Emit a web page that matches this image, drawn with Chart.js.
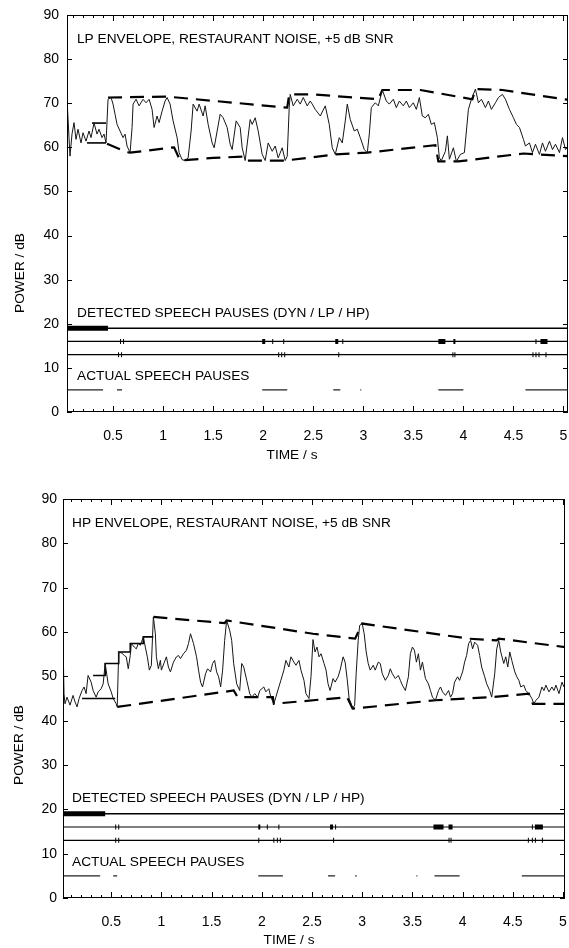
<!DOCTYPE html>
<html>
<head>
<meta charset="utf-8">
<script src="https://cdn.jsdelivr.net/npm/chart.js@4.4.1/dist/chart.umd.min.js"></script>
<style>
  html, body { margin: 0; padding: 0; background: #fff; }
  #wrap { position: relative; width: 569px; height: 948px; }
  .panel { position: absolute; left: 0; width: 569px; height: 474px; }
</style>
</head>
<body>
<div id="wrap">
  <div class="panel" style="top:0"><canvas id="lpChart" width="569" height="474"></canvas></div>
  <div class="panel" style="top:474px"><canvas id="hpChart" width="569" height="474"></canvas></div>
</div>
<script>
// ── AXIS TICKS ─────────────────────────────────────────────────────────────
const xTickValues = [0.5, 1, 1.5, 2, 2.5, 3, 3.5, 4, 4.5, 5];
const yTickValues = [0, 10, 20, 30, 40, 50, 60, 70, 80, 90];
const pauseRows = { dyn: 19, lp: 16, hp: 13, actual: 5 };

// ── LP ENVELOPE PANEL (top) ────────────────────────────────────────────────
const lpTime = [0.04,0.06,0.07,0.09,0.11,0.13,0.15,0.18,0.20,0.23,
  0.26,0.28,0.31,0.34,0.36,0.39,0.41,0.43,0.45,0.48,
  0.50,0.52,0.54,0.57,0.60,0.62,0.64,0.67,0.69,0.70,
  0.73,0.76,0.80,0.83,0.86,0.89,0.91,0.94,0.96,0.99,
  1.02,1.04,1.07,1.10,1.14,1.16,1.19,1.22,1.25,1.28,
  1.30,1.34,1.36,1.40,1.42,1.45,1.49,1.51,1.57,1.60,
  1.64,1.67,1.69,1.73,1.77,1.79,1.82,1.87,1.89,1.92,
  1.95,1.99,2.02,2.05,2.09,2.12,2.15,2.19,2.22,2.24,
  2.26,2.27,2.30,2.34,2.37,2.40,2.44,2.47,2.49,2.52,
  2.57,2.62,2.66,2.69,2.72,2.76,2.79,2.82,2.84,2.87,
  2.91,2.94,2.97,3.01,3.04,3.06,3.08,3.12,3.15,3.19,
  3.23,3.26,3.30,3.33,3.36,3.40,3.43,3.46,3.50,3.53,
  3.56,3.59,3.62,3.65,3.68,3.71,3.74,3.76,3.78,3.82,
  3.84,3.86,3.90,3.93,3.97,4.01,4.03,4.05,4.08,4.12,
  4.15,4.18,4.22,4.25,4.28,4.32,4.35,4.39,4.42,4.46,
  4.50,4.53,4.56,4.60,4.62,4.66,4.69,4.72,4.76,4.79,
  4.82,4.86,4.89,4.92,4.96,4.99,5.02,5.04];
const lpPower = [70.9,62.2,58.0,63.0,65.6,61.8,64.1,61.0,63.3,61.4,
  63.7,62.2,65.5,63.0,64.1,62.2,63.0,61.0,70.9,71.3,
  69.8,67.5,65.2,63.7,62.2,63.0,60.3,58.8,64.5,69.8,
  70.9,69.4,70.9,70.1,70.9,68.6,64.5,67.1,65.6,68.2,
  70.5,71.3,69.8,66.0,62.2,58.8,57.2,57.0,57.6,63.7,
  69.8,68.2,69.8,67.1,69.4,65.2,61.0,59.9,67.5,66.7,
  64.5,60.7,59.5,66.0,64.5,59.9,57.0,66.3,65.2,66.7,
  63.7,58.4,57.0,61.0,59.1,60.3,57.6,59.9,57.0,58.0,
  69.0,72.0,69.4,70.9,69.8,71.3,69.4,70.5,69.8,68.6,
  67.1,69.4,65.2,59.9,58.4,62.2,61.0,66.0,69.8,66.3,
  63.7,64.1,62.2,59.5,58.8,63.0,69.0,70.1,69.4,73.0,
  70.5,69.8,70.9,69.0,70.5,69.4,70.5,69.0,70.1,68.6,
  71.3,67.1,66.7,67.5,65.2,65.6,62.2,57.6,57.0,59.1,
  62.6,57.3,59.9,56.8,58.4,58.8,63.7,68.6,70.9,73.2,
  70.1,70.9,69.0,70.5,68.6,70.1,71.3,72.0,70.9,68.6,
  66.7,65.2,64.5,61.8,60.3,61.0,58.8,60.7,58.4,61.0,
  59.1,61.4,59.5,60.7,58.8,62.2,59.5,60.0];
const lpUpperTime = [0.45,1.04,2.24,2.26,2.49,3.15,3.19,3.57,4.09,4.12,4.39,5.04];
const lpUpperPower = [71.3,71.5,69.0,72.0,72.0,70.9,73.0,73.0,70.9,73.2,73.0,70.8];
const lpLowerTime = [0.44,0.64,0.67,1.11,1.17,1.50,1.80,1.82,2.22,2.72,3.04,3.72,3.75,3.95,4.60,5.04];
const lpLowerPower = [60.8,58.9,58.8,60.0,57.0,57.6,57.9,57.0,57.0,58.4,58.8,60.5,56.8,56.8,58.6,58.0];
const lpUpperStepTime = [0.29, 0.43];
const lpUpperStepPower = [65.5, 65.5];
const lpLowerStepTime = [0.24, 0.43];
const lpLowerStepPower = [61.0, 61.0];
const lpDetDyn = [[0.05, 0.45]];
const lpDetLp = [[0.57,0.58],[0.60,0.61],[1.99,2.02],[2.09,2.10],[2.20,2.21],[2.72,2.75],[2.79,2.80],[3.75,3.82],[3.90,3.92],[4.72,4.73],[4.77,4.84]];
const lpDetHp = [[0.55,0.56],[0.58,0.59],[2.15,2.16],[2.18,2.19],[2.21,2.22],[2.75,2.76],[3.89,3.90],[3.91,3.92],[4.69,4.70],[4.72,4.73],[4.75,4.76],[4.82,4.83]];
const lpActual = [[0.05,0.40],[0.54,0.59],[1.99,2.24],[2.70,2.77],[2.97,2.98],[3.75,4.00],[4.62,5.05]];

// ── HP ENVELOPE PANEL (bottom) ─────────────────────────────────────────────
const hpTime = [0.02,0.03,0.04,0.06,0.09,0.12,0.14,0.16,0.18,0.21,
  0.23,0.25,0.27,0.30,0.32,0.35,0.37,0.40,0.42,0.44,
  0.47,0.50,0.52,0.55,0.56,0.575,0.61,0.63,0.65,0.67,
  0.69,0.70,0.73,0.75,0.77,0.79,0.82,0.84,0.86,0.88,
  0.90,0.92,0.94,0.95,0.97,0.99,1.00,1.03,1.05,1.07,
  1.09,1.12,1.15,1.17,1.19,1.22,1.25,1.27,1.29,1.32,
  1.35,1.37,1.39,1.41,1.44,1.46,1.49,1.51,1.53,1.55,
  1.57,1.59,1.61,1.63,1.65,1.68,1.70,1.72,1.75,1.78,
  1.80,1.82,1.85,1.88,1.90,1.93,1.96,1.98,2.02,2.04,
  2.07,2.09,2.12,2.14,2.17,2.19,2.22,2.24,2.27,2.29,
  2.32,2.34,2.37,2.39,2.42,2.44,2.47,2.49,2.51,2.53,
  2.55,2.57,2.59,2.62,2.64,2.66,2.68,2.71,2.73,2.76,
  2.78,2.81,2.83,2.85,2.87,2.89,2.905,2.925,2.94,2.96,
  2.975,3.00,3.02,3.04,3.06,3.08,3.11,3.13,3.16,3.18,
  3.20,3.23,3.26,3.28,3.30,3.33,3.36,3.38,3.40,3.43,
  3.46,3.48,3.50,3.52,3.54,3.56,3.58,3.60,3.63,3.66,
  3.68,3.70,3.73,3.76,3.78,3.80,3.83,3.86,3.88,3.90,
  3.92,3.95,3.97,4.00,4.02,4.04,4.06,4.08,4.10,4.12,
  4.15,4.17,4.19,4.22,4.24,4.27,4.29,4.32,4.34,4.36,
  4.38,4.41,4.43,4.45,4.47,4.49,4.52,4.54,4.56,4.58,
  4.61,4.63,4.66,4.69,4.71,4.73,4.76,4.79,4.81,4.83,
  4.86,4.89,4.91,4.93,4.96,4.99,5.01];
const hpPower = [58.0,46.1,43.8,45.3,43.5,45.7,44.2,43.1,45.0,46.8,
  47.6,46.1,50.2,48.7,46.8,45.3,46.5,47.2,48.3,52.9,
  48.3,46.5,45.0,43.8,43.1,55.5,55.2,54.7,54.4,51.7,
  54.7,57.4,56.6,56.2,57.4,57.0,58.9,56.6,54.4,51.4,
  52.5,63.4,59.6,54.4,51.7,53.6,51.4,53.2,54.4,52.1,
  51.0,53.2,54.4,54.7,54.0,55.1,55.9,57.4,59.6,57.4,
  54.4,51.4,48.7,47.6,50.6,51.7,51.0,52.9,53.6,51.0,
  49.9,47.6,51.4,58.1,62.6,60.4,58.1,52.9,48.3,46.8,
  52.9,52.1,49.1,46.1,45.3,46.1,45.3,46.8,47.6,46.5,
  47.2,45.3,43.8,45.3,47.6,49.1,51.4,53.6,52.1,54.4,
  53.2,52.5,53.6,51.4,49.1,46.1,45.0,49.9,58.3,55.5,
  56.6,54.4,55.1,52.9,51.4,48.3,46.8,49.5,48.7,49.9,
  51.4,54.4,53.2,49.5,45.0,43.8,42.7,43.5,50.6,58.1,
  61.5,61.9,59.6,55.5,52.9,51.4,52.5,51.4,53.2,52.9,
  50.6,49.1,50.2,51.7,50.6,49.5,50.2,49.1,48.0,46.8,
  49.9,55.1,56.6,55.9,53.2,55.1,51.4,53.2,49.5,48.3,
  46.8,45.3,44.6,46.8,47.6,46.5,45.7,46.8,45.3,46.1,
  48.7,49.9,49.1,51.0,53.2,54.7,57.4,58.1,56.2,57.7,
  57.0,54.7,52.1,49.9,48.3,46.8,45.3,50.6,56.2,58.1,
  55.5,52.9,54.4,52.1,55.5,53.6,51.0,49.9,49.1,47.6,
  48.0,46.8,46.1,45.0,43.8,44.6,45.3,47.6,46.8,48.0,
  46.5,47.6,46.8,48.0,46.1,48.7,47.6];
const hpUpperTime = [0.92,1.63,1.65,2.51,2.93,3.00,4.06,4.34,4.36,5.02];
const hpUpperPower = [63.4,62.0,62.6,59.6,58.5,61.9,58.5,58.1,58.5,56.6];
const hpLowerTime = [0.56,1.72,1.76,2.11,2.12,2.85,2.905,3.73,3.88,4.29,4.66,4.70,5.02];
const hpLowerPower = [43.1,46.8,45.3,45.3,43.8,45.3,42.7,44.6,44.8,45.3,46.1,43.8,43.8];
const hpUpperStepTime = [0.32,0.44,0.44,0.575,0.575,0.69,0.69,0.82,0.82,0.92];
const hpUpperStepPower = [50.2,50.2,52.9,52.9,55.5,55.5,57.4,57.4,58.9,58.9];
const hpLowerStepTime = [0.21, 0.54];
const hpLowerStepPower = [45.0, 45.0];
const hpDetDyn = [[0.02, 0.44]];
const hpDetLp = [[0.54,0.55],[0.57,0.58],[1.965,1.985],[2.05,2.06],[2.165,2.175],[2.68,2.71],[2.73,2.74],[3.71,3.81],[3.86,3.90],[4.69,4.70],[4.72,4.80]];
const hpDetHp = [[0.54,0.55],[0.57,0.58],[1.965,1.975],[2.115,2.125],[2.15,2.16],[2.18,2.19],[2.71,2.72],[3.86,3.87],[3.88,3.89],[4.65,4.66],[4.69,4.70],[4.72,4.73],[4.79,4.80]];
const hpActual = [[0.02,0.39],[0.52,0.56],[1.965,2.21],[2.66,2.73],[2.93,2.945],[3.54,3.55],[3.72,3.97],[4.59,5.02]];

// ── CHART DEFAULTS ─────────────────────────────────────────────────────────
Chart.defaults.font.family = "'Liberation Sans', Arial, Helvetica, sans-serif";
Chart.defaults.color = "#000";
const textFont = "13.7px 'Liberation Sans', Arial, sans-serif";

const pts = (ts, vs) => ts.map((t, i) => ({ x: t, y: vs[i] }));
// pause intervals -> line pieces separated by gaps
function segs(pairs, level) {
  const out = [];
  pairs.forEach(([a, b]) => out.push({ x: a, y: level }, { x: b, y: level }, { x: b, y: null }));
  return out;
}

// box + inward ticks + in-plot labels
const framePlugin = {
  id: "frame",
  afterDraw(chart, args, o) {
    const { ctx, chartArea: a, scales: { x, y } } = chart;
    ctx.save();
    ctx.strokeStyle = "#000";
    ctx.lineWidth = 1;
    ctx.strokeRect(a.left + 0.5, a.top + 0.5, a.width - 1, a.height - 1);
    ctx.beginPath();
    for (let k = 1; k <= 50; k++) {
      const v = k / 10;
      if (v < x.min || v > x.max) continue;
      const px = Math.round(x.getPixelForValue(v)) + 0.5;
      const len = k % 5 === 0 ? 6 : 3;
      ctx.moveTo(px, a.bottom); ctx.lineTo(px, a.bottom - len);
      ctx.moveTo(px, a.top); ctx.lineTo(px, a.top + len);
    }
    yTickValues.forEach(v => {
      const py = Math.round(y.getPixelForValue(v)) + 0.5;
      ctx.moveTo(a.left, py); ctx.lineTo(a.left + 5, py);
      ctx.moveTo(a.right, py); ctx.lineTo(a.right - 5, py);
    });
    ctx.stroke();

    ctx.fillStyle = "#000";
    ctx.font = textFont;
    ctx.textAlign = "left";
    ctx.textBaseline = "middle";
    const tx = a.left + o.textInset;
    ctx.fillText(o.title, tx, y.getPixelForValue(84.5));
    ctx.fillText("DETECTED SPEECH PAUSES (DYN / LP / HP)", tx, y.getPixelForValue(22.4));
    ctx.fillText("ACTUAL SPEECH PAUSES", tx, y.getPixelForValue(8.0));

    ctx.textAlign = "center";
    ctx.fillText("TIME / s", o.xTitleX, o.xTitleY);
    ctx.translate(o.yTitleX, o.yTitleY);
    ctx.rotate(-Math.PI / 2);
    ctx.fillText("POWER / dB", 0, 0);
    ctx.restore();
  },
};

function buildPanel(id, p) {
  const ctx = document.getElementById(id).getContext("2d");
  const line = (data, extra) => Object.assign({ data, borderColor: "#000", borderWidth: 1, pointRadius: 0, tension: 0, fill: false }, extra);
  return new Chart(ctx, {
    type: "line",
    data: {
      datasets: [
        line(pts(p.time, p.power), { borderColor: "#161616", borderWidth: 1 }),
        line(pts(p.upT, p.upV), { borderWidth: 2.2, borderDash: [14, 8] }),
        line(pts(p.loT, p.loV), { borderWidth: 2.2, borderDash: [14, 8] }),
        line(pts(p.upStepT, p.upStepV), { borderWidth: 1.6 }),
        line(pts(p.loStepT, p.loStepV), { borderWidth: 1.6 }),
        line([{ x: p.xMin, y: pauseRows.dyn }, { x: p.xMax, y: pauseRows.dyn }], { borderWidth: 1.6 }),
        line([{ x: p.xMin, y: pauseRows.lp }, { x: p.xMax, y: pauseRows.lp }], { borderWidth: 1.1 }),
        line([{ x: p.xMin, y: pauseRows.hp }, { x: p.xMax, y: pauseRows.hp }], { borderWidth: 1.1 }),
        line(segs(p.dyn, pauseRows.dyn), { borderWidth: 5, borderCapStyle: "butt" }),
        line(segs(p.lp, pauseRows.lp), { borderWidth: 5, borderCapStyle: "butt" }),
        line(segs(p.hp, pauseRows.hp), { borderWidth: 5, borderCapStyle: "butt" }),
        line(segs(p.actual, pauseRows.actual), { borderWidth: 1.3, borderColor: "#222" }),
      ],
    },
    options: {
      responsive: false, animation: false, devicePixelRatio: 1,
      layout: { padding: { left: 0, right: p.padRight, top: p.padTop, bottom: 0 } },
      plugins: {
        legend: { display: false },
        tooltip: { enabled: false },
        frame: { title: p.title, textInset: p.textInset, xTitleX: p.xTitleX, xTitleY: p.xTitleY, yTitleX: p.yTitleX, yTitleY: p.yTitleY },
      },
      scales: {
        x: {
          type: "linear", min: p.xMin, max: p.xMax,
          grid: { display: false, drawTicks: false }, border: { display: false },
          afterBuildTicks: s => { s.ticks = xTickValues.map(v => ({ value: v })); },
          afterFit: s => { s.height = p.xAxisH; s.paddingLeft = 0; s.paddingRight = 0; },
          ticks: { autoSkip: false, maxRotation: 0, padding: 16, font: { size: 14 }, color: "#000", callback: v => String(v) },
        },
        y: {
          type: "linear", min: 0, max: 90,
          grid: { display: false, drawTicks: false }, border: { display: false },
          afterBuildTicks: s => { s.ticks = yTickValues.map(v => ({ value: v })); },
          afterFit: s => { s.width = p.yAxisW; s.paddingTop = 0; s.paddingBottom = 0; },
          ticks: { padding: p.yPad, font: { size: 14 }, color: "#000" },
        },
      },
    },
    plugins: [framePlugin],
  });
}

buildPanel("lpChart", {
  title: "LP ENVELOPE, RESTAURANT NOISE, +5 dB SNR",
  time: lpTime, power: lpPower,
  upT: lpUpperTime, upV: lpUpperPower, loT: lpLowerTime, loV: lpLowerPower,
  upStepT: lpUpperStepTime, upStepV: lpUpperStepPower, loStepT: lpLowerStepTime, loStepV: lpLowerStepPower,
  dyn: lpDetDyn, lp: lpDetLp, hp: lpDetHp, actual: lpActual,
  xMin: 0.04, xMax: 5.045, padTop: 15, padRight: 1, xAxisH: 62, yAxisW: 67, yPad: 8,
  textInset: 10, xTitleX: 292, xTitleY: 455, yTitleX: 20, yTitleY: 273,
});

buildPanel("hpChart", {
  title: "HP ENVELOPE, RESTAURANT NOISE, +5 dB SNR",
  time: hpTime, power: hpPower,
  upT: hpUpperTime, upV: hpUpperPower, loT: hpLowerTime, loV: hpLowerPower,
  upStepT: hpUpperStepTime, upStepV: hpUpperStepPower, loStepT: hpLowerStepTime, loStepV: hpLowerStepPower,
  dyn: hpDetDyn, lp: hpDetLp, hp: hpDetHp, actual: hpActual,
  xMin: 0.02, xMax: 5.02, padTop: 25, padRight: 4, xAxisH: 50, yAxisW: 63, yPad: 6,
  textInset: 9, xTitleX: 289, xTitleY: 466, yTitleX: 19, yTitleY: 271,
});
</script>
</body>
</html>
